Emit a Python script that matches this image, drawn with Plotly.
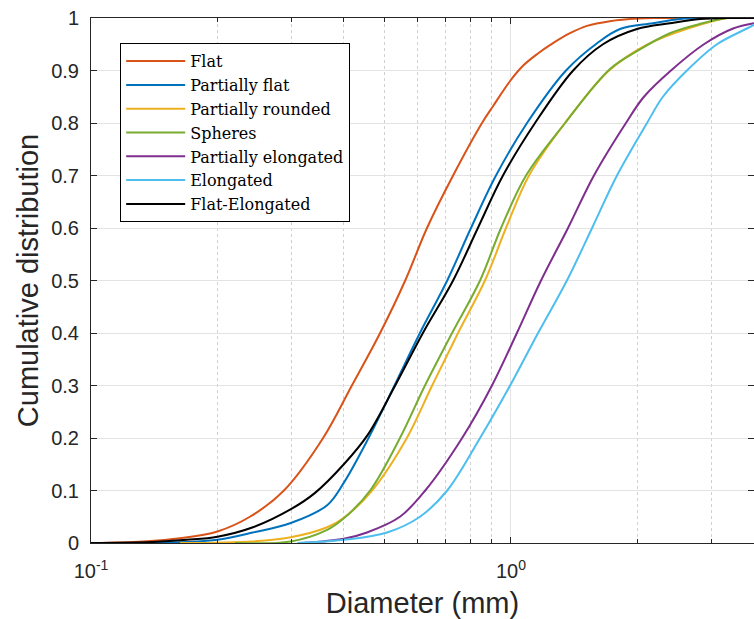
import plotly.graph_objects as go

# ---- data (diameter in mm, cumulative fraction) ----
flat_x = [0.1, 0.133, 0.163, 0.2, 0.239, 0.288, 0.357, 0.418, 0.488, 0.56, 0.631, 0.728, 0.853, 0.906, 0.995, 1.068, 1.153, 1.259, 1.382, 1.517, 1.72, 2.0, 2.264, 3.79]
flat_y = [0, 0.003, 0.009, 0.022, 0.05, 0.1, 0.2, 0.3, 0.4, 0.5, 0.6, 0.7, 0.8, 0.832, 0.88, 0.909, 0.931, 0.952, 0.971, 0.985, 0.994, 0.999, 1.0, 1.0]

pflat_x = [0.138, 0.169, 0.2, 0.243, 0.299, 0.365, 0.4, 0.458, 0.528, 0.607, 0.705, 0.803, 0.921, 1.092, 1.352, 1.603, 1.818, 2.178, 2.53, 2.98, 3.79]
pflat_y = [0, 0.002, 0.006, 0.02, 0.038, 0.072, 0.115, 0.2, 0.3, 0.4, 0.5, 0.6, 0.7, 0.8, 0.9, 0.952, 0.979, 0.99, 0.998, 1.0, 1.0]

prounded_x = [0.163, 0.243, 0.299, 0.365, 0.4, 0.467, 0.565, 0.649, 0.748, 0.867, 0.973, 1.104, 1.345, 1.712, 2.119, 2.638, 3.287, 3.79]
prounded_y = [0, 0.003, 0.011, 0.03, 0.048, 0.1, 0.2, 0.3, 0.4, 0.5, 0.6, 0.7, 0.8, 0.9, 0.95, 0.98, 1.0, 1.0]

spheres_x = [0.22, 0.299, 0.365, 0.4, 0.462, 0.544, 0.624, 0.724, 0.844, 0.947, 1.086, 1.345, 1.721, 1.995, 2.39, 2.8, 3.27, 3.79]
spheres_y = [0, 0.003, 0.025, 0.047, 0.1, 0.2, 0.3, 0.4, 0.5, 0.6, 0.7, 0.8, 0.903, 0.937, 0.971, 0.988, 1.0, 1.0]

pelong_x = [0.32, 0.4, 0.454, 0.544, 0.625, 0.765, 0.901, 1.033, 1.179, 1.367, 1.576, 1.878, 2.073, 2.404, 2.88, 3.379, 3.79]
pelong_y = [0, 0.008, 0.02, 0.05, 0.1, 0.2, 0.3, 0.4, 0.5, 0.6, 0.7, 0.8, 0.85, 0.9, 0.95, 0.98, 0.99]

elong_x = [0.31, 0.4, 0.507, 0.607, 0.705, 0.844, 0.995, 1.16, 1.359, 1.56, 1.788, 2.108, 2.30, 2.624, 3.094, 3.647, 3.79]
elong_y = [0, 0.006, 0.02, 0.05, 0.1, 0.2, 0.3, 0.4, 0.5, 0.6, 0.7, 0.8, 0.85, 0.9, 0.95, 0.98, 0.987]

flatelong_x = [0.1, 0.14, 0.169, 0.2, 0.243, 0.3, 0.341, 0.4, 0.455, 0.53, 0.617, 0.728, 0.834, 0.957, 1.141, 1.406, 1.656, 1.995, 2.39, 2.82, 3.33, 3.79]
flatelong_y = [0, 0.002, 0.006, 0.012, 0.03, 0.065, 0.095, 0.15, 0.205, 0.3, 0.4, 0.5, 0.6, 0.7, 0.8, 0.9, 0.95, 0.979, 0.99, 0.998, 1.0, 1.0]

names = ["Flat", "Partially flat", "Partially rounded", "Spheres",
         "Partially elongated", "Elongated", "Flat-Elongated"]
colors = ["#D95319", "#0072BD", "#EDB120", "#77AC30", "#7E2F8E", "#4DBEEE", "#000000"]
series = [(flat_x, flat_y), (pflat_x, pflat_y), (prounded_x, prounded_y),
          (spheres_x, spheres_y), (pelong_x, pelong_y), (elong_x, elong_y),
          (flatelong_x, flatelong_y)]

x_tickvals = [0.1, 1]
x_ticktext = ["10<sup>-1</sup>", "10<sup>0</sup>"]
x_minor = [0.2, 0.3, 0.4, 0.5, 0.6, 0.7, 0.8, 0.9, 2, 3]

fig = go.Figure()
for (xs, ys), n, c in zip(series, names, colors):
    fig.add_trace(go.Scatter(x=xs, y=ys, mode="lines", name=n,
                             line=dict(color=c, width=2, shape="spline", smoothing=1.0)))

axis_col = "#262626"
fig.update_layout(
    width=754, height=619,
    margin=dict(l=91, r=0, t=18, b=76, autoexpand=False),
    plot_bgcolor="white", paper_bgcolor="white",
    font=dict(family="Liberation Sans, Arial, sans-serif", color=axis_col),
    showlegend=True,
    legend=dict(x=0.044, y=0.952, xanchor="left", yanchor="top",
                bgcolor="white", bordercolor="#000000", borderwidth=1,
                font=dict(family="DejaVu Serif, Liberation Serif, serif", size=16, color="#000000"),
                tracegroupgap=0, itemwidth=59),
)
fig.update_xaxes(
    type="log", range=[-1, 0.5786],
    tickmode="array", tickvals=x_tickvals, ticktext=x_ticktext,
    ticks="inside", ticklen=6, tickcolor=axis_col, tickfont=dict(size=20),
    ticklabelstandoff=10,
    showline=True, linecolor=axis_col, linewidth=1, mirror="ticks",
    showgrid=True, gridcolor="#e3e3e3", gridwidth=1,
    minor=dict(tickmode="array", tickvals=x_minor, ticks="inside", ticklen=4,
               tickcolor=axis_col, showgrid=True, gridcolor="#d0d0d0", griddash="dot", gridwidth=1),
    title=dict(text="Diameter (mm)", font=dict(size=29), standoff=13),
    zeroline=False,
)
fig.update_yaxes(
    range=[0, 1], dtick=0.1, tick0=0,
    ticks="inside", ticklen=6, tickcolor=axis_col, tickfont=dict(size=20),
    ticklabelstandoff=7,
    showline=True, linecolor=axis_col, linewidth=1, mirror="ticks",
    showgrid=True, gridcolor="#e3e3e3", gridwidth=1,
    title=dict(text="Cumulative distribution", font=dict(size=29), standoff=4),
    zeroline=False,
)
fig.write_html("out.html", config={"displayModeBar": False},
               post_script="document.body.style.margin='0px';")
